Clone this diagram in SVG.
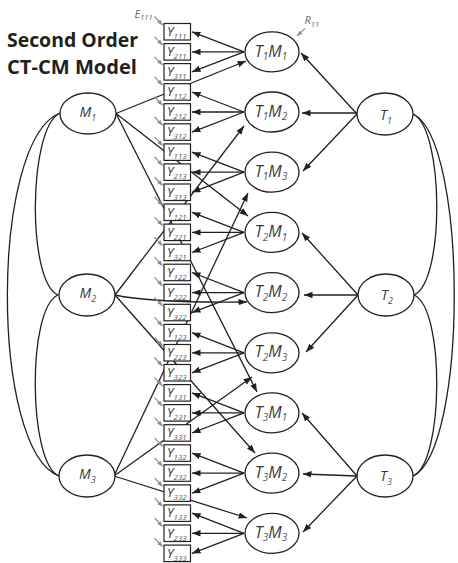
<svg xmlns="http://www.w3.org/2000/svg" width="458" height="563" viewBox="0 0 458 563">
<style>
  .ln{fill:none;stroke:#231f20;stroke-width:1.3}
  .ar{marker-end:url(#ah)}
  .er{fill:none;stroke:#8c8c8c;stroke-width:1.2;marker-end:url(#gh)}
  .el{fill:#fff;stroke:#231f20;stroke-width:1.3}
  .bx{fill:#fff;stroke:#231f20;stroke-width:1.2}
  .lab{font-family:"Open Sans","Liberation Sans",Arial,sans-serif;font-style:italic;fill:#3a3a3a}
  .tm{font-size:16px}
  .big{font-size:14px}
  .yl{font-size:13px}
  .ys{fill:#555;font-size:7.8px}
  .sb{fill:#555}
  .gr{fill:#6a6a6a;font-size:11px}
  .title{font-family:"Open Sans","Liberation Sans",Arial,sans-serif;font-weight:bold;font-size:20px;fill:#231f20}
</style>
<defs>
  <marker id="ah" markerUnits="userSpaceOnUse" markerWidth="9" markerHeight="7" refX="8.5" refY="3.2" orient="auto">
    <path d="M0,0 L8.5,3.2 L0,6.4 z" fill="#231f20"/>
  </marker>
  <marker id="gh" markerUnits="userSpaceOnUse" markerWidth="6" markerHeight="5" refX="5.5" refY="2.2" orient="auto">
    <path d="M0,0 L5.5,2.2 L0,4.4 z" fill="#8c8c8c"/>
  </marker>
</defs>

<g id="title">
  <text class="title" x="7" y="47" textLength="131" lengthAdjust="spacingAndGlyphs">Second Order</text>
  <text class="title" x="7" y="74" textLength="130" lengthAdjust="spacingAndGlyphs">CT-CM Model</text>
</g>

<g id="connectors">
  <!-- correlations among method factors -->
  <path class="ln" d="M60,113 C28,128 27,282 58,295"/>
  <path class="ln" d="M58,295 C27,308 28,463 59,476"/>
  <path class="ln" d="M60,113 C-10,140 -10,450 59,476"/>
  <!-- correlations among trait factors -->
  <path class="ln" d="M413,114 C444,128 445,282 414,295"/>
  <path class="ln" d="M414,295 C445,308 444,463 413,476"/>
  <path class="ln" d="M413,114 C468,140 468,450 413,476"/>

  <!-- method factors to trait-method factors -->
  <path class="ln ar" d="M116,113.5 L246,61"/>
  <path class="ln ar" d="M116,113.5 L248,216"/>
  <path class="ln ar" d="M116,113.5 L257,392"/>
  <path class="ln ar" d="M115,295 L244,126"/>
  <path class="ln ar" d="M115,295 Q150,303 247,302"/>
  <path class="ln ar" d="M115,295 L255,453"/>
  <path class="ln ar" d="M114,476 L248,193"/>
  <path class="ln ar" d="M114,476 L252,377"/>
  <path class="ln ar" d="M114,476 L247,518"/>

  <!-- trait factors to trait-method factors -->
  <path class="ln ar" d="M357,114 L301,53"/>
  <path class="ln ar" d="M357,113 L302,113"/>
  <path class="ln ar" d="M357,114 L303,171"/>
  <path class="ln ar" d="M358,295 L302,233"/>
  <path class="ln ar" d="M358,295 L304,295"/>
  <path class="ln ar" d="M358,295 L306,352"/>
  <path class="ln ar" d="M357,476 L302,413"/>
  <path class="ln ar" d="M357,476 L303,474"/>
  <path class="ln ar" d="M357,476 L303,532"/>

  <!-- trait-method factors to indicators -->
  <path class="ln ar" d="M244,51.9 L192,31.8"/>
  <path class="ln ar" d="M244,51.9 L192,51.9"/>
  <path class="ln ar" d="M244,51.9 L192,71.9"/>
  <path class="ln ar" d="M244,112 L192,92"/>
  <path class="ln ar" d="M244,112 L192,112"/>
  <path class="ln ar" d="M244,112 L192,132.1"/>
  <path class="ln ar" d="M244,172.2 L192,152.2"/>
  <path class="ln ar" d="M244,172.2 L192,172.2"/>
  <path class="ln ar" d="M244,172.2 L192,192.3"/>
  <path class="ln ar" d="M244,232.4 L192,212.3"/>
  <path class="ln ar" d="M244,232.4 L192,232.4"/>
  <path class="ln ar" d="M244,232.4 L192,252.5"/>
  <path class="ln ar" d="M244,292.6 L192,272.5"/>
  <path class="ln ar" d="M244,292.6 L192,292.6"/>
  <path class="ln ar" d="M244,292.6 L192,312.6"/>
  <path class="ln ar" d="M244,352.8 L192,332.7"/>
  <path class="ln ar" d="M244,352.8 L192,352.8"/>
  <path class="ln ar" d="M244,352.8 L192,372.8"/>
  <path class="ln ar" d="M244,412.9 L192,392.9"/>
  <path class="ln ar" d="M244,412.9 L192,412.9"/>
  <path class="ln ar" d="M244,412.9 L192,433"/>
  <path class="ln ar" d="M244,473.1 L192,453.1"/>
  <path class="ln ar" d="M244,473.1 L192,473.1"/>
  <path class="ln ar" d="M244,473.1 L192,493.2"/>
  <path class="ln ar" d="M244,533.3 L192,513.2"/>
  <path class="ln ar" d="M244,533.3 L192,533.3"/>
  <path class="ln ar" d="M244,533.3 L192,553.4"/>

  <!-- residual of the first trait-method factor -->
  <path class="er" d="M305,28.5 L297,36"/>

  <!-- measurement errors -->
  <path class="er" d="M154.5,16.5 L162.5,25"/>
  <path class="er" d="M154.5,36.6 L162.5,45.1"/>
  <path class="er" d="M154.5,56.6 L162.5,65.1"/>
  <path class="er" d="M154.5,76.7 L162.5,85.2"/>
  <path class="er" d="M154.5,96.7 L162.5,105.2"/>
  <path class="er" d="M154.5,116.8 L162.5,125.3"/>
  <path class="er" d="M154.5,136.9 L162.5,145.4"/>
  <path class="er" d="M154.5,156.9 L162.5,165.4"/>
  <path class="er" d="M154.5,177 L162.5,185.5"/>
  <path class="er" d="M154.5,197 L162.5,205.5"/>
  <path class="er" d="M154.5,217.1 L162.5,225.6"/>
  <path class="er" d="M154.5,237.2 L162.5,245.7"/>
  <path class="er" d="M154.5,257.2 L162.5,265.7"/>
  <path class="er" d="M154.5,277.3 L162.5,285.8"/>
  <path class="er" d="M154.5,297.3 L162.5,305.8"/>
  <path class="er" d="M154.5,317.4 L162.5,325.9"/>
  <path class="er" d="M154.5,337.5 L162.5,346"/>
  <path class="er" d="M154.5,357.5 L162.5,366"/>
  <path class="er" d="M154.5,377.6 L162.5,386.1"/>
  <path class="er" d="M154.5,397.6 L162.5,406.1"/>
  <path class="er" d="M154.5,417.7 L162.5,426.2"/>
  <path class="er" d="M154.5,437.8 L162.5,446.3"/>
  <path class="er" d="M154.5,457.8 L162.5,466.3"/>
  <path class="er" d="M154.5,477.9 L162.5,486.4"/>
  <path class="er" d="M154.5,497.9 L162.5,506.4"/>
  <path class="er" d="M154.5,518 L162.5,526.5"/>
  <path class="er" d="M154.5,538.1 L162.5,546.6"/>
</g>

<g id="e111"><text class="lab gr" x="134.5" y="17.5">E<tspan font-size="7.5" dy="2.5">111</tspan></text></g>
<g id="r11"><text class="lab gr" x="304.5" y="24">R<tspan font-size="7.5" dy="2.5">11</tspan></text></g>

<!-- method factors -->
<g id="m1"><ellipse class="el" cx="88" cy="113.5" rx="28" ry="20.5"/><text class="lab big" x="79.5" y="117">M<tspan class="sb" font-size="9" dy="3.5">1</tspan></text></g>
<g id="m2"><ellipse class="el" cx="87" cy="295" rx="28" ry="21"/><text class="lab big" x="79.5" y="298">M<tspan class="sb" font-size="9" dy="3.5">2</tspan></text></g>
<g id="m3"><ellipse class="el" cx="87" cy="476" rx="28" ry="21"/><text class="lab big" x="79" y="479">M<tspan class="sb" font-size="9" dy="3.5">3</tspan></text></g>

<!-- trait factors -->
<g id="t1"><ellipse class="el" cx="385" cy="114" rx="28" ry="21"/><text class="lab big" x="380" y="120">T<tspan class="sb" font-size="9" dy="3.5">1</tspan></text></g>
<g id="t2"><ellipse class="el" cx="386" cy="295" rx="28" ry="21"/><text class="lab big" x="381" y="300">T<tspan class="sb" font-size="9" dy="3.5">2</tspan></text></g>
<g id="t3"><ellipse class="el" cx="385" cy="476" rx="28" ry="21"/><text class="lab big" x="380" y="481">T<tspan class="sb" font-size="9" dy="3.5">3</tspan></text></g>

<!-- trait-method factors -->
<g id="t1m1"><ellipse class="el" cx="272" cy="51.9" rx="27" ry="20"/><text class="lab tm" x="271" y="56.5" text-anchor="middle">T<tspan class="sb" font-size="10" dy="3.5">1</tspan><tspan dy="-3.5">M</tspan><tspan class="sb" font-size="10" dy="3.5">1</tspan></text></g>
<g id="t1m2"><ellipse class="el" cx="272" cy="112" rx="27" ry="20"/><text class="lab tm" x="271" y="116.6" text-anchor="middle">T<tspan class="sb" font-size="10" dy="3.5">1</tspan><tspan dy="-3.5">M</tspan><tspan class="sb" font-size="10" dy="3.5">2</tspan></text></g>
<g id="t1m3"><ellipse class="el" cx="272" cy="172.2" rx="27" ry="20"/><text class="lab tm" x="271" y="176.8" text-anchor="middle">T<tspan class="sb" font-size="10" dy="3.5">1</tspan><tspan dy="-3.5">M</tspan><tspan class="sb" font-size="10" dy="3.5">3</tspan></text></g>
<g id="t2m1"><ellipse class="el" cx="272" cy="232.4" rx="27" ry="20"/><text class="lab tm" x="271" y="237" text-anchor="middle">T<tspan class="sb" font-size="10" dy="3.5">2</tspan><tspan dy="-3.5">M</tspan><tspan class="sb" font-size="10" dy="3.5">1</tspan></text></g>
<g id="t2m2"><ellipse class="el" cx="272" cy="292.6" rx="27" ry="20"/><text class="lab tm" x="271" y="297.2" text-anchor="middle">T<tspan class="sb" font-size="10" dy="3.5">2</tspan><tspan dy="-3.5">M</tspan><tspan class="sb" font-size="10" dy="3.5">2</tspan></text></g>
<g id="t2m3"><ellipse class="el" cx="272" cy="352.8" rx="27" ry="20"/><text class="lab tm" x="271" y="357.4" text-anchor="middle">T<tspan class="sb" font-size="10" dy="3.5">2</tspan><tspan dy="-3.5">M</tspan><tspan class="sb" font-size="10" dy="3.5">3</tspan></text></g>
<g id="t3m1"><ellipse class="el" cx="272" cy="412.9" rx="27" ry="20"/><text class="lab tm" x="271" y="417.5" text-anchor="middle">T<tspan class="sb" font-size="10" dy="3.5">3</tspan><tspan dy="-3.5">M</tspan><tspan class="sb" font-size="10" dy="3.5">1</tspan></text></g>
<g id="t3m2"><ellipse class="el" cx="272" cy="473.1" rx="27" ry="20"/><text class="lab tm" x="271" y="477.7" text-anchor="middle">T<tspan class="sb" font-size="10" dy="3.5">3</tspan><tspan dy="-3.5">M</tspan><tspan class="sb" font-size="10" dy="3.5">2</tspan></text></g>
<g id="t3m3"><ellipse class="el" cx="272" cy="533.3" rx="27" ry="20"/><text class="lab tm" x="271" y="537.9" text-anchor="middle">T<tspan class="sb" font-size="10" dy="3.5">3</tspan><tspan dy="-3.5">M</tspan><tspan class="sb" font-size="10" dy="3.5">3</tspan></text></g>

<!-- observed indicators -->
<g id="y111"><rect class="bx" x="164" y="23.5" width="26.5" height="16.5"/><text class="lab yl" x="167" y="36">Y<tspan class="ys" dy="3">111</tspan></text></g>
<g id="y211"><rect class="bx" x="164" y="43.6" width="26.5" height="16.5"/><text class="lab yl" x="167" y="56.1">Y<tspan class="ys" dy="3">211</tspan></text></g>
<g id="y311"><rect class="bx" x="164" y="63.6" width="26.5" height="16.5"/><text class="lab yl" x="167" y="76.1">Y<tspan class="ys" dy="3">311</tspan></text></g>
<g id="y112"><rect class="bx" x="164" y="83.7" width="26.5" height="16.5"/><text class="lab yl" x="167" y="96.2">Y<tspan class="ys" dy="3">112</tspan></text></g>
<g id="y212"><rect class="bx" x="164" y="103.7" width="26.5" height="16.5"/><text class="lab yl" x="167" y="116.2">Y<tspan class="ys" dy="3">212</tspan></text></g>
<g id="y312"><rect class="bx" x="164" y="123.8" width="26.5" height="16.5"/><text class="lab yl" x="167" y="136.3">Y<tspan class="ys" dy="3">312</tspan></text></g>
<g id="y113"><rect class="bx" x="164" y="143.9" width="26.5" height="16.5"/><text class="lab yl" x="167" y="156.4">Y<tspan class="ys" dy="3">113</tspan></text></g>
<g id="y213"><rect class="bx" x="164" y="163.9" width="26.5" height="16.5"/><text class="lab yl" x="167" y="176.4">Y<tspan class="ys" dy="3">213</tspan></text></g>
<g id="y313"><rect class="bx" x="164" y="184" width="26.5" height="16.5"/><text class="lab yl" x="167" y="196.5">Y<tspan class="ys" dy="3">313</tspan></text></g>
<g id="y121"><rect class="bx" x="164" y="204" width="26.5" height="16.5"/><text class="lab yl" x="167" y="216.5">Y<tspan class="ys" dy="3">121</tspan></text></g>
<g id="y221"><rect class="bx" x="164" y="224.1" width="26.5" height="16.5"/><text class="lab yl" x="167" y="236.6">Y<tspan class="ys" dy="3">221</tspan></text></g>
<g id="y321"><rect class="bx" x="164" y="244.2" width="26.5" height="16.5"/><text class="lab yl" x="167" y="256.7">Y<tspan class="ys" dy="3">321</tspan></text></g>
<g id="y122"><rect class="bx" x="164" y="264.2" width="26.5" height="16.5"/><text class="lab yl" x="167" y="276.7">Y<tspan class="ys" dy="3">122</tspan></text></g>
<g id="y222"><rect class="bx" x="164" y="284.3" width="26.5" height="16.5"/><text class="lab yl" x="167" y="296.8">Y<tspan class="ys" dy="3">222</tspan></text></g>
<g id="y322"><rect class="bx" x="164" y="304.3" width="26.5" height="16.5"/><text class="lab yl" x="167" y="316.8">Y<tspan class="ys" dy="3">322</tspan></text></g>
<g id="y123"><rect class="bx" x="164" y="324.4" width="26.5" height="16.5"/><text class="lab yl" x="167" y="336.9">Y<tspan class="ys" dy="3">123</tspan></text></g>
<g id="y223"><rect class="bx" x="164" y="344.5" width="26.5" height="16.5"/><text class="lab yl" x="167" y="357">Y<tspan class="ys" dy="3">223</tspan></text></g>
<g id="y323"><rect class="bx" x="164" y="364.5" width="26.5" height="16.5"/><text class="lab yl" x="167" y="377">Y<tspan class="ys" dy="3">323</tspan></text></g>
<g id="y131"><rect class="bx" x="164" y="384.6" width="26.5" height="16.5"/><text class="lab yl" x="167" y="397.1">Y<tspan class="ys" dy="3">131</tspan></text></g>
<g id="y231"><rect class="bx" x="164" y="404.6" width="26.5" height="16.5"/><text class="lab yl" x="167" y="417.1">Y<tspan class="ys" dy="3">231</tspan></text></g>
<g id="y331"><rect class="bx" x="164" y="424.7" width="26.5" height="16.5"/><text class="lab yl" x="167" y="437.2">Y<tspan class="ys" dy="3">331</tspan></text></g>
<g id="y132"><rect class="bx" x="164" y="444.8" width="26.5" height="16.5"/><text class="lab yl" x="167" y="457.3">Y<tspan class="ys" dy="3">132</tspan></text></g>
<g id="y232"><rect class="bx" x="164" y="464.8" width="26.5" height="16.5"/><text class="lab yl" x="167" y="477.3">Y<tspan class="ys" dy="3">232</tspan></text></g>
<g id="y332"><rect class="bx" x="164" y="484.9" width="26.5" height="16.5"/><text class="lab yl" x="167" y="497.4">Y<tspan class="ys" dy="3">332</tspan></text></g>
<g id="y133"><rect class="bx" x="164" y="504.9" width="26.5" height="16.5"/><text class="lab yl" x="167" y="517.4">Y<tspan class="ys" dy="3">133</tspan></text></g>
<g id="y233"><rect class="bx" x="164" y="525" width="26.5" height="16.5"/><text class="lab yl" x="167" y="537.5">Y<tspan class="ys" dy="3">233</tspan></text></g>
<g id="y333"><rect class="bx" x="164" y="545.1" width="26.5" height="16.5"/><text class="lab yl" x="167" y="557.6">Y<tspan class="ys" dy="3">333</tspan></text></g>
</svg>
